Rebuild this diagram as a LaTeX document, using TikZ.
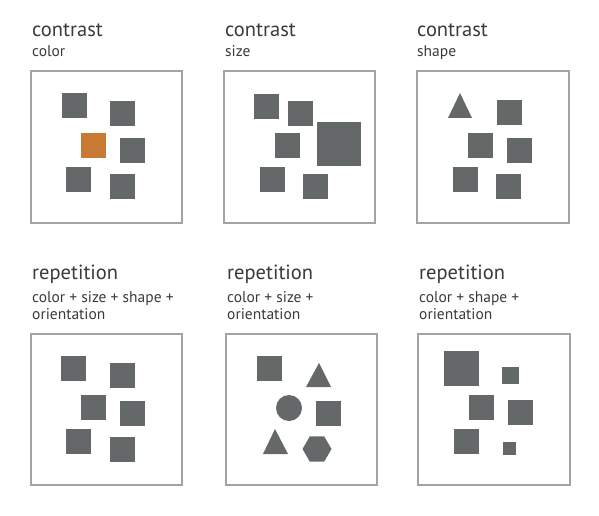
\documentclass[tikz,border=0pt]{standalone}
\usepackage{fontspec}
\setmainfont{PT Sans}
\usetikzlibrary{shapes.geometric}

\definecolor{blockgray}{HTML}{646868}
\definecolor{accent}{HTML}{C87A35}
\definecolor{framegray}{HTML}{A3A3A3}
\definecolor{inkgray}{HTML}{3A3A3A}

\tikzset{
  frame/.style={draw=framegray, line width=2pt},
  blk/.style={fill=blockgray, inner sep=0pt, minimum size=#1},
  blk/.default=25pt,
  heading/.style={anchor=base west, inner sep=0pt, text=inkgray, font=\fontsize{20.5}{22}\selectfont},
  caption/.style={anchor=base west, inner sep=0pt, text=inkgray, align=left, font=\fontsize{15.5}{17}\selectfont},
}

\begin{document}
\begin{tikzpicture}[x=1pt, y=-1pt]
  \useasboundingbox (0,0) rectangle (599,516);

  % contrast: color
  \node[heading] (tA) at (32,37) {contrast};
  \node[caption] (cA) at (32,57) {color};
  \draw[frame] (31,71) rectangle (182,223);
  \node[blk] (a1) at (74.5,106) {};
  \node[blk] (a2) at (122.5,113.5) {};
  \node[blk, fill=accent] (a3) at (93.5,145.5) {};
  \node[blk] (a4) at (132.5,150.5) {};
  \node[blk] (a5) at (78.5,179.5) {};
  \node[blk] (a6) at (122.5,186.5) {};

  % contrast: size
  \node[heading] (tB) at (225,37) {contrast};
  \node[caption] (cB) at (225,57) {size};
  \draw[frame] (224,71) rectangle (375,223);
  \node[blk] (b1) at (266.5,106.5) {};
  \node[blk] (b2) at (300.5,113.5) {};
  \node[blk=44pt] (b3) at (338.5,144) {};
  \node[blk] (b4) at (287,145) {};
  \node[blk] (b5) at (272.5,179.5) {};
  \node[blk] (b6) at (315.5,186.5) {};

  % contrast: shape
  \node[heading] (tC) at (417,37) {contrast};
  \node[caption] (cC) at (417,57) {shape};
  \draw[frame] (417,71) rectangle (569,223);
  \fill[blockgray] (460,93) -- (472,118) -- (448,118) -- cycle;
  \node[blk] (c2) at (509.5,112.5) {};
  \node[blk] (c3) at (480.5,145) {};
  \node[blk] (c4) at (519.5,150.5) {};
  \node[blk] (c5) at (465.5,179.5) {};
  \node[blk] (c6) at (508.5,186.5) {};

  % repetition: color + size + shape + orientation
  % (two-line captions sit on the baseline of their last line)
  \node[heading] (tD) at (32,279) {repetition};
  \node[caption] (cD) at (32,319) {color + size + shape +\\orientation};
  \draw[frame] (31,334) rectangle (182,485);
  \node[blk] (d1) at (73.5,368.5) {};
  \node[blk] (d2) at (122.5,375.5) {};
  \node[blk] (d3) at (93.5,407.5) {};
  \node[blk] (d4) at (132.5,413) {};
  \node[blk] (d5) at (78.5,441.5) {};
  \node[blk] (d6) at (122,449) {};

  % repetition: color + size + orientation
  \node[heading] (tE) at (227,279) {repetition};
  \node[caption] (cE) at (227,319) {color + size +\\orientation};
  \draw[frame] (226,334) rectangle (377,485);
  \node[blk] (e1) at (269.5,368.5) {};
  \fill[blockgray] (319,363) -- (331,387) -- (306,387) -- cycle;
  \node[circle, fill=blockgray, inner sep=0pt, minimum size=26pt] (e3) at (289,408) {};
  \node[blk] (e4) at (328.5,413) {};
  \fill[blockgray] (275,429) -- (288,454) -- (263,454) -- cycle;
  \node[regular polygon, regular polygon sides=6, fill=blockgray, inner sep=0pt, minimum size=29pt] (e6) at (317,449) {};

  % repetition: color + shape + orientation
  \node[heading] (tF) at (419,279) {repetition};
  \node[caption] (cF) at (419,319) {color + shape +\\orientation};
  \draw[frame] (418,334) rectangle (570,485);
  \node[blk=35pt] (f1) at (461.5,368.5) {};
  \node[blk=17pt] (f2) at (510.5,375.5) {};
  \node[blk] (f3) at (481.5,407.5) {};
  \node[blk] (f4) at (520,412.5) {};
  \node[blk] (f5) at (466.5,441.5) {};
  \node[blk=13pt] (f6) at (509.5,448.5) {};
\end{tikzpicture}
\end{document}
